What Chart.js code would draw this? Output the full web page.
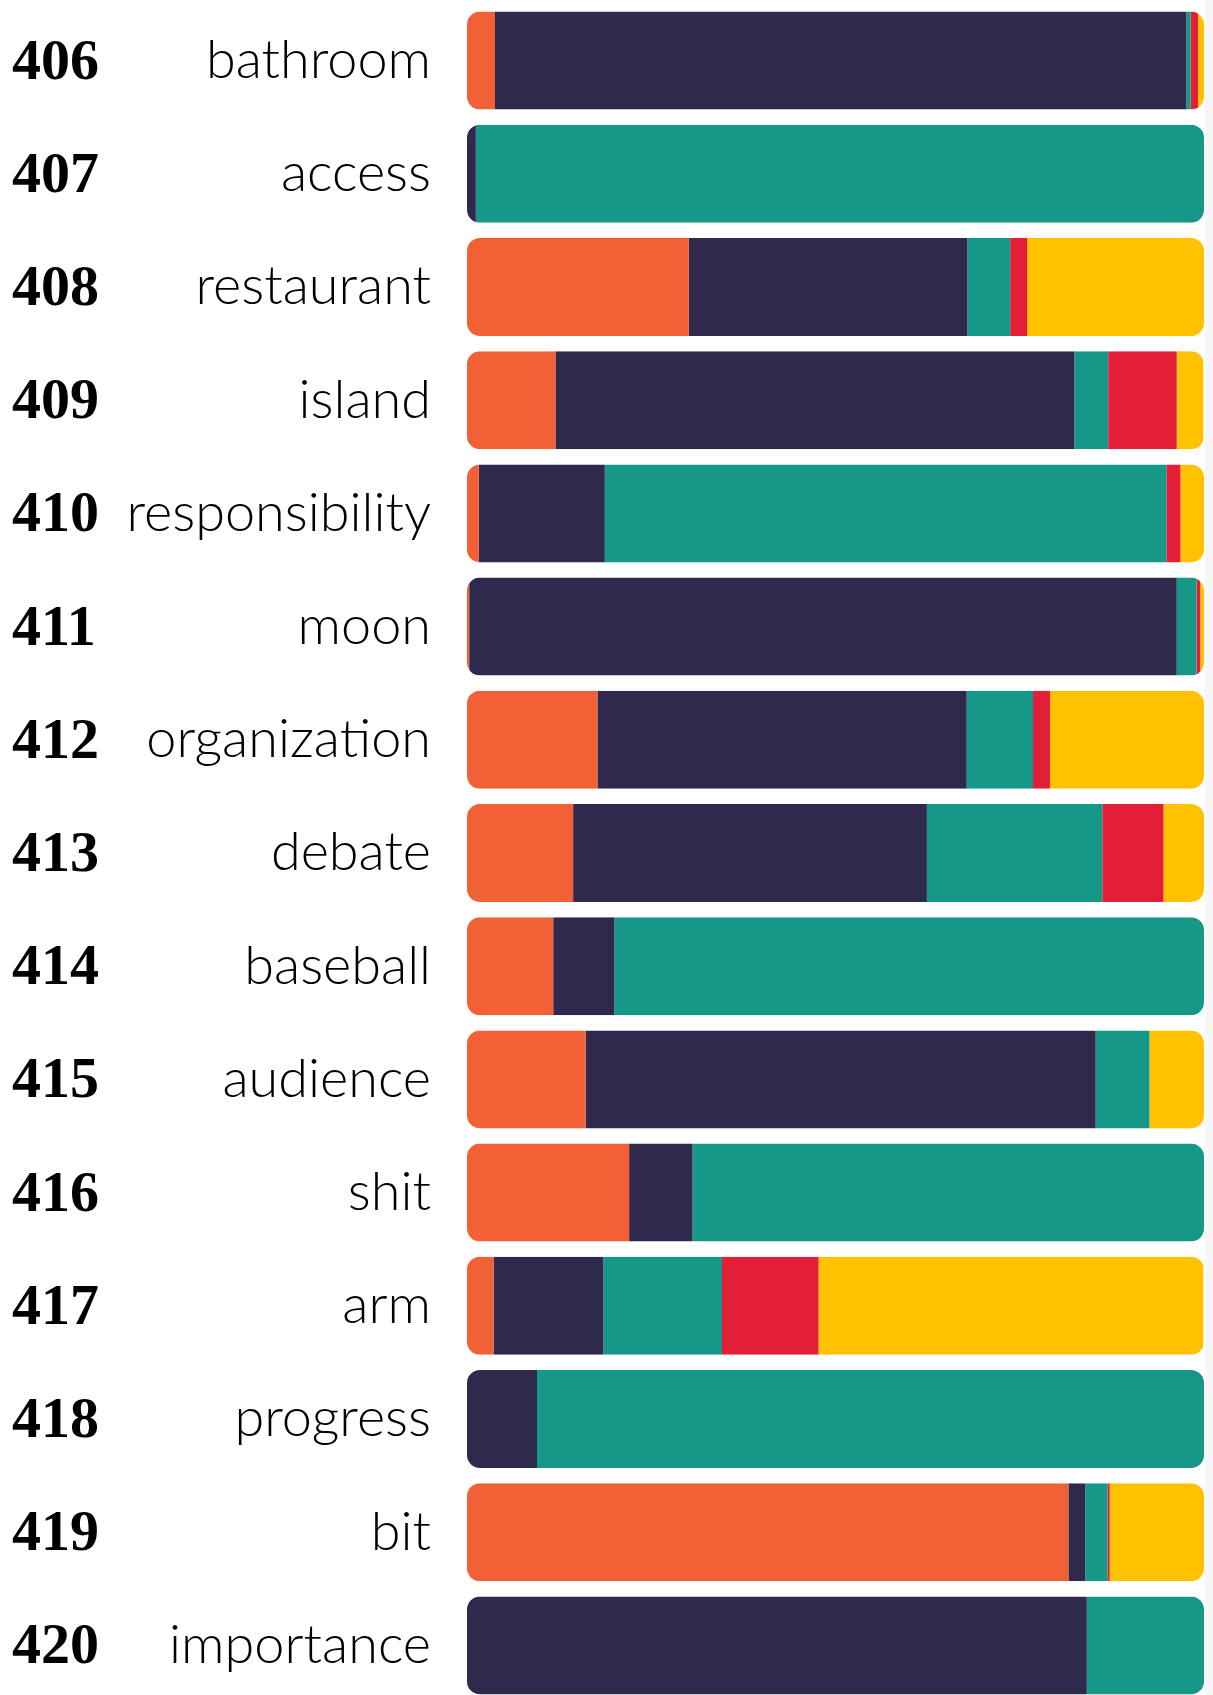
<!DOCTYPE html>
<html>
<head>
<meta charset="utf-8">
<script src="https://cdn.jsdelivr.net/npm/chart.js@4.4.1/dist/chart.umd.min.js"></script>
<style>
    html, body { margin: 0; padding: 0; overflow: hidden; }
    body { width: 1213px; height: 1695px; background: linear-gradient(to right, #fff 1204px, #f6f6f6 1206px); }
    canvas { display: block; }
</style>
</head>
<body>
<canvas id="word-chart" width="1213" height="1702"></canvas>
<script>
const words = ['bathroom', 'access', 'restaurant', 'island', 'responsibility', 'moon', 'organization',
    'debate', 'baseball', 'audience', 'shit', 'arm', 'progress', 'bit', 'importance'];
const numbers = ['406', '407', '408', '409', '410', '411', '412', '413', '414', '415', '416', '417', '418', '419', '420'];

// share of each bar, left to right (percent)
const orangeVals = [3.8, 0, 30.1, 12.0, 1.6, 0.3, 17.7, 14.4, 11.7, 16.1, 22.0, 3.6, 0, 81.6, 0];
const darkVals = [93.8, 1.2, 37.8, 70.4, 17.1, 96.0, 50.1, 48.0, 8.3, 69.2, 8.6, 14.9, 9.5, 2.3, 84.1];
const tealVals = [0.6, 98.8, 5.8, 4.6, 76.2, 2.7, 9.0, 23.8, 80.0, 7.3, 69.4, 16.1, 90.5, 3.0, 15.9];
const redVals = [1.0, 0, 2.3, 9.3, 1.9, 0.5, 2.3, 8.3, 0, 0, 0, 13.1, 0, 0.3, 0];
const yellowVals = [0.8, 0, 24.0, 3.6, 3.3, 0.5, 20.9, 5.5, 0, 7.4, 0, 52.2, 0, 12.8, 0];

// clip each stacked row to one rounded rectangle
const roundRows = {
    id: 'roundRows',
    beforeDatasetsDraw(chart) {
        const ctx = chart.ctx;
        const xs = chart.scales.x;
        const meta = chart.getDatasetMeta(0);
        const left = xs.getPixelForValue(0);
        const right = xs.getPixelForValue(100);
        ctx.save();
        ctx.beginPath();
        meta.data.forEach(bar => {
            const h = bar.height;
            ctx.roundRect(left, bar.y - h / 2, right - left, h, 13);
        });
        ctx.clip();
    },
    afterDatasetsDraw(chart) {
        chart.ctx.restore();
    }
};

// fixed axis width, no extra room above/below for the big labels
function fixWidth(w) {
    return function (scale) {
        scale.width = w;
        scale.paddingTop = 0;
        scale.paddingBottom = 0;
    };
}

const ctx = document.getElementById('word-chart').getContext('2d');
new Chart(ctx, {
    type: 'bar',
    data: {
        labels: words,
        datasets: [
            { label: 'orange', data: orangeVals, backgroundColor: '#F26135' },
            { label: 'dark', data: darkVals, backgroundColor: '#2F294D' },
            { label: 'teal', data: tealVals, backgroundColor: '#159887' },
            { label: 'red', data: redVals, backgroundColor: '#E31E36' },
            { label: 'yellow', data: yellowVals, backgroundColor: '#FFC100' }
        ]
    },
    options: {
        responsive: false,
        devicePixelRatio: 1,
        animation: false,
        indexAxis: 'y',
        layout: {
            padding: { left: 12, right: 9, top: 4, bottom: 0 }
        },
        datasets: {
            bar: {
                barPercentage: 0.866,
                categoryPercentage: 1,
                borderWidth: 0
            }
        },
        plugins: {
            legend: { display: false },
            tooltip: { enabled: false }
        },
        scales: {
            x: {
                type: 'linear',
                stacked: true,
                min: 0,
                max: 100,
                display: false
            },
            y: {
                type: 'category',
                stacked: true,
                position: 'left',
                grid: { display: false },
                border: { display: false },
                ticks: {
                    autoSkip: false,
                    padding: 28,
                    color: '#000',
                    font: { family: 'Lato', size: 54, weight: 300 }
                },
                afterFit: fixWidth(355)
            },
            y2: {
                type: 'category',
                labels: numbers,
                position: 'left',
                weight: 1,
                offset: true,
                grid: { display: false },
                border: { display: false },
                ticks: {
                    autoSkip: false,
                    crossAlign: 'far',
                    padding: 0,
                    labelOffset: 3,
                    color: '#000',
                    font: { family: 'Liberation Serif', size: 58, weight: 'bold' }
                },
                afterFit: fixWidth(100)
            }
        }
    },
    plugins: [roundRows]
});
</script>
</body>
</html>
